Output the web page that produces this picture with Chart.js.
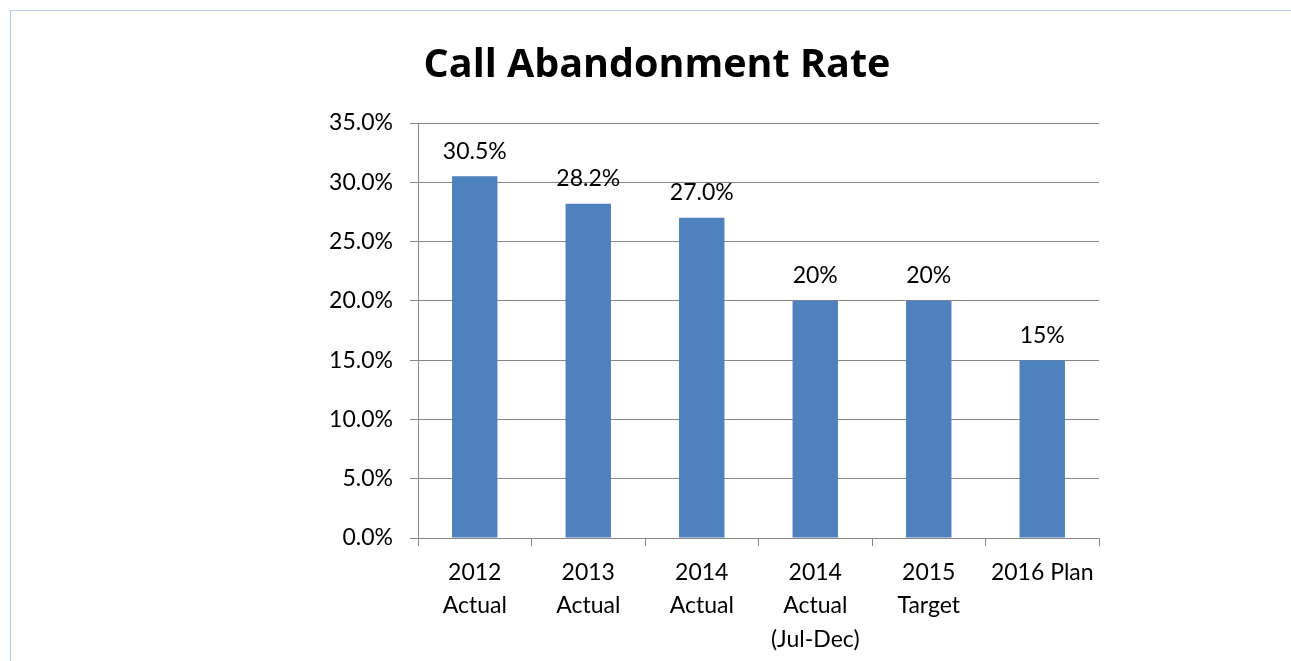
<!DOCTYPE html>
<html>
<head>
<meta charset="utf-8">
<script src="https://cdn.jsdelivr.net/npm/chart.js@4"></script>
<style>
  body { margin: 0; background: #fff; overflow: hidden; }
  #box { position: absolute; left: 10px; top: 10px; width: 1294px; height: 700px; border: 1px solid #b9cde5; }
</style>
</head>
<body>
<div id="box"><canvas id="rateChart"></canvas></div>
<script>
const categories = [['2012', 'Actual'], ['2013', 'Actual'], ['2014', 'Actual'], ['2014', 'Actual', '(Jul-Dec)'], ['2015', 'Target'], '2016 Plan'];
const rates = [30.5, 28.2, 27.0, 20, 20, 15];
const rateLabels = ['30.5%', '28.2%', '27.0%', '20%', '20%', '15%'];
const yTicks = [0, 5, 10, 15, 20, 25, 30, 35];

const fontFamily = 'Lato, "Open Sans", sans-serif';

// draws the value text above each bar
const barLabels = {
    id: 'barLabels',
    afterDatasetsDraw(chart) {
        const ctx = chart.ctx;
        ctx.save();
        ctx.font = '23px ' + fontFamily;
        ctx.fillStyle = '#000';
        ctx.textAlign = 'center';
        ctx.textBaseline = 'middle';
        chart.getDatasetMeta(0).data.forEach((bar, i) => {
            ctx.fillText(rateLabels[i], bar.x, bar.y - 25);
        });
        ctx.restore();
    }
};

document.addEventListener('DOMContentLoaded', () => {
    const ctx = document.getElementById('rateChart').getContext('2d');
    new Chart(ctx, {
        type: 'bar',
        data: {
            labels: categories,
            datasets: [{
                label: 'Call Abandonment Rate',
                data: rates,
                backgroundColor: '#4f81bd',
                borderWidth: 0,
                barPercentage: 0.4,
                categoryPercentage: 1
            }]
        },
        options: {
            responsive: true,
            maintainAspectRatio: false,
            animation: false,
            layout: {
                padding: { top: 0, left: 204, right: 206, bottom: 53 }
            },
            scales: {
                x: {
                    afterFit(scale) { scale.height = 120; },
                    grid: {
                        display: true,
                        drawOnChartArea: false,
                        drawTicks: true,
                        tickLength: 8,
                        color: '#868686'
                    },
                    border: { display: true, color: '#868686' },
                    ticks: {
                        color: '#000',
                        padding: 10,
                        maxRotation: 0,
                        autoSkip: false,
                        font: { family: fontFamily, size: 23, lineHeight: 1.45 }
                    }
                },
                y: {
                    min: 0,
                    max: 35,
                    afterFit(scale) { scale.width = 203; },
                    afterBuildTicks(scale) { scale.ticks = yTicks.map(v => ({ value: v })); },
                    grid: {
                        color: '#868686',
                        tickLength: 8
                    },
                    border: { display: true, color: '#868686' },
                    ticks: {
                        color: '#000',
                        padding: 17,
                        font: { family: fontFamily, size: 23 },
                        callback: v => v.toFixed(1) + '%'
                    }
                }
            },
            plugins: {
                legend: { display: false },
                tooltip: { enabled: false },
                title: {
                    display: true,
                    text: 'Call Abandonment Rate',
                    color: '#000',
                    font: { family: '"Open Sans", Lato, sans-serif', size: 39.5, weight: 'bold', lineHeight: 1.2 },
                    padding: { top: 31, bottom: 33.6 }
                }
            }
        },
        plugins: [barLabels]
    });
});
</script>
</body>
</html>
